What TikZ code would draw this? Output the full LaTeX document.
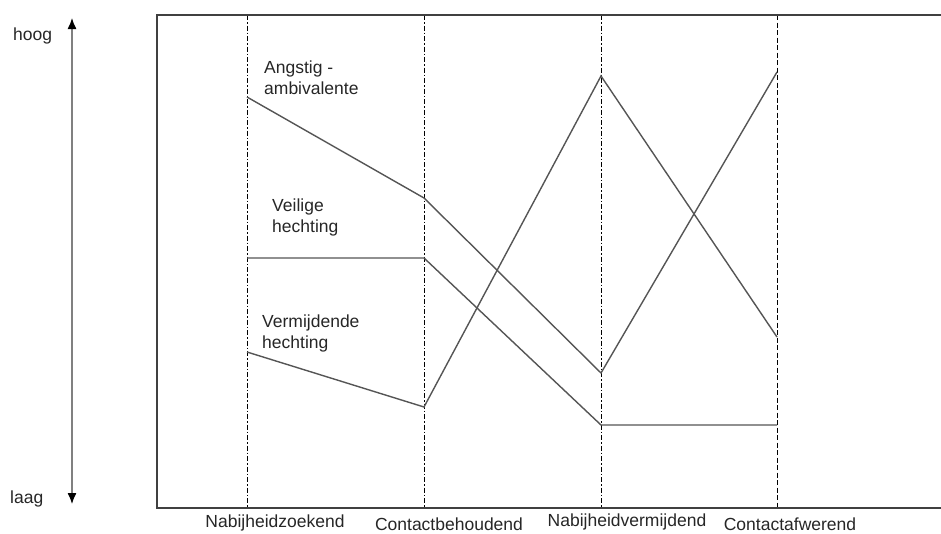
\documentclass[tikz,border=0pt]{standalone}
\usepackage{fontspec}
\setmainfont{Liberation Sans}
\usetikzlibrary{arrows.meta}
\definecolor{frame}{HTML}{404040}
\definecolor{dataline}{HTML}{555555}
\definecolor{axisgray}{HTML}{808080}
\begin{document}
\begin{tikzpicture}[x=1pt,y=-1pt,
  lbl/.style={font=\fontsize{17.5}{21}\selectfont, inner sep=0pt, text=black!85},
  guide/.style={black, line width=1pt, dash pattern=on 5pt off 2pt on 1.5pt off 2pt},
  guidedash/.style={black, line width=1pt, dash pattern=on 5pt off 2.5pt},
  curve/.style={dataline, line width=1.4pt},
  frameline/.style={frame, line width=2pt}]
\useasboundingbox (0,0) rectangle (941,533);
% frame (open to the right)
\coordinate (tr) at (941,15);
\coordinate (tl) at (157,15);
\coordinate (bl) at (157,508);
\coordinate (br) at (941,508);
% guides
\foreach \n/\x in {a/247,b/424,c/601,d/777}{
  \coordinate (top\n) at (\x,15);
  \coordinate (bot\n) at (\x,508);
}
\draw[guide] (topa) -- (bota);
\draw[guide] (topb) -- (botb);
\draw[guide] (topc) -- (botc);
\draw[guidedash] (topd) -- (botd);
\draw[frameline] (tr) -- (tl) -- (bl) -- (br);
% data points
\coordinate (an1) at (247,97);
\coordinate (an2) at (424,198);
\coordinate (an3) at (601,373);
\coordinate (an4) at (777,72);
\coordinate (ve1) at (247,258);
\coordinate (ve2) at (424,258);
\coordinate (ve3) at (601,425);
\coordinate (ve4) at (777,425);
\coordinate (vm1) at (247,352);
\coordinate (vm2) at (424,407);
\coordinate (vm3) at (601,76);
\coordinate (vm4) at (777,337);
\draw[curve] (an1) -- (an2) -- (an3) -- (an4);
\draw[curve] (ve1) -- (ve2) -- (ve3) -- (ve4);
\draw[curve] (vm1) -- (vm2) -- (vm3) -- (vm4);
% labels
\node[lbl, anchor=west, align=left] (lan) at (264,78) {Angstig -\\ambivalente};
\node[lbl, anchor=west, align=left] (lve) at (272,217) {Veilige\\hechting};
\node[lbl, anchor=west, align=left] (lvm) at (262,333) {Vermijdende\\hechting};
% axis
\node[lbl, anchor=west] (hoog) at (13,36) {hoog};
\node[lbl, anchor=west] (laag) at (10,499) {laag};
\coordinate (ax1) at (72,504);
\coordinate (ax2) at (72,18);
\draw[axisgray, line width=1.3pt, {Latex[black,length=11pt,width=9pt]}-{Latex[black,length=11pt,width=9pt]}] (ax1) -- (ax2);
% categories
\node[lbl] (c1) at (275,523) {Nabijheidzoekend};
\node[lbl] (c2) at (449,524) {Contactbehoudend};
\node[lbl] (c3) at (627,522) {Nabijheidvermijdend};
\node[lbl] (c4) at (790,524) {Contactafwerend};
\end{tikzpicture}
\end{document}
